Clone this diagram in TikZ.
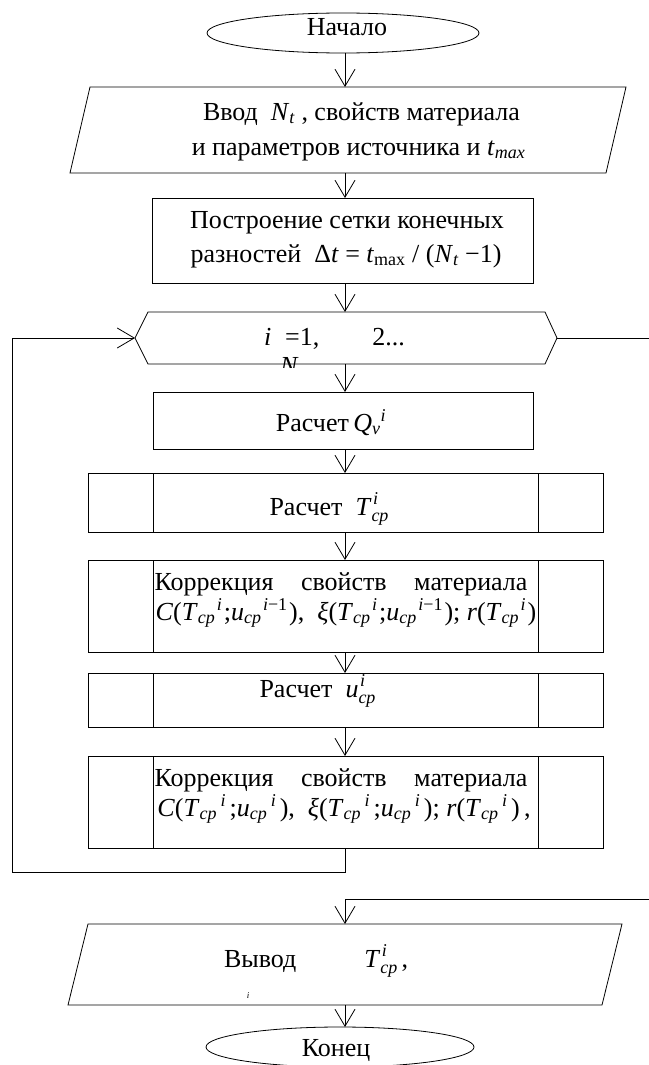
\documentclass[tikz,border=0pt]{standalone}
\usepackage{amsmath}
\usepackage{fontspec}
\setmainfont{Liberation Serif}
\DeclareMathSizes{26}{26}{18}{13}
\usetikzlibrary{arrows.meta,shapes.geometric,calc}
% italic letter in indices, set in the text font
\newcommand\mi[1]{\text{\itshape #1}}
% superscript stacked over subscript
\newcommand\ssc[2]{\makebox[0pt][l]{\kern1.5pt\raisebox{11pt}{\fontsize{18}{18}\selectfont\itshape #1}}\raisebox{-6pt}{\fontsize{18}{18}\selectfont\itshape #2}}
% subscript cp followed by a separate superscript
\newcommand\cpsup[2][1pt]{$_{\mi{cp}}\kern#1{}^{#2}\kern#1$}
\begin{document}
\begin{tikzpicture}[x=1pt,y=-1pt,line width=0.8pt,
  every node/.style={inner sep=0pt,outer sep=0pt},
  lbl/.style={anchor=base,font=\fontsize{26}{35}\selectfont},
  term/.style={draw,ellipse,minimum width=272pt,minimum height=40pt},
  blk/.style={draw},
  pred/.style={draw,minimum width=515pt,
    path picture={\draw
      ([xshift=65pt]path picture bounding box.north west) -- ([xshift=65pt]path picture bounding box.south west)
      ([xshift=-65pt]path picture bounding box.north east) -- ([xshift=-65pt]path picture bounding box.south east);}},
  arr/.style={-{Straight Barb[length=17pt,width=20pt]}}]
\useasboundingbox (0,0) rectangle (648,1065);
\coordinate (axis) at (345,0);

% shapes
\node[term] (start) at (343,33) {};
\node[minimum width=536pt,minimum height=86pt] (in) at (348,130) {};
\draw ($(in.north west)+(10,0)$) -- ($(in.north east)+(10,0)$) -- ($(in.south east)+(-10,0)$) -- ($(in.south west)+(-10,0)$) -- cycle;
\node[blk,minimum width=381pt,minimum height=85pt] (build) at (342.5,240.5) {};
\node[minimum width=422pt,minimum height=52pt] (hex) at (346,338) {};
\draw (hex.west) -- ($(hex.north west)+(13,0)$) -- ($(hex.north east)+(-12,0)$) -- (hex.east) -- ($(hex.south east)+(-12,0)$) -- ($(hex.south west)+(13,0)$) -- cycle;
\node[blk,minimum width=380pt,minimum height=57pt] (q) at (343,420.5) {};
\node[pred,minimum height=59pt] (t) at (345.5,502.5) {};
\node[pred,minimum height=92pt] (c1) at (345.5,606) {};
\node[pred,minimum height=54pt] (u) at (345.5,700) {};
\node[pred,minimum height=92pt] (c2) at (345.5,802) {};
\node[minimum width=534pt,minimum height=81pt] (out) at (345,964.5) {};
\draw ($(out.north west)+(10,0)$) -- ($(out.north east)+(10,0)$) -- ($(out.south east)+(-10,0)$) -- ($(out.south west)+(-10,0)$) -- cycle;
\node[term,minimum width=268pt] (end) at (340,1047) {};

% texts
\node[lbl] (tstart) at (347,36) {Начало};
\node[lbl] (tin1) at (361.5,120) {Ввод\ \ \textit{N}$_{\mi{t}}$\ , свойств материала};
\node[lbl] (tin2) at (358.5,155) {и параметров источника и \textit{t}$_{\mi{max}}$};
\node[lbl] (tb1) at (347,228) {Построение сетки конечных};
\node[lbl] (tb2) at (346,262) {разностей\ \ Δ\textit{t} = \textit{t}$_{\text{max}}$ / (\textit{N}$_{\mi{t}}$ −1)};
\node[lbl,anchor=base west] (thex) at (264,345) {{\itshape i}\hspace{14pt}=1,\hspace{53pt}2...};
\begin{scope}
  \clip (270,355) rectangle (310,367);
  \node[lbl,anchor=base west] (thexn) at (280,374) {\itshape N};
\end{scope}
\node[lbl] (tq) at (331,431) {Расчет\,\textit{Q}$_{\mi{v}}{}^{\mi{i}}$};
\node[lbl] (tt) at (329,515) {Расчет\ \ \textit{T}\ssc{i}{cp}};
\node[lbl] (tc1a) at (341,590) {\makebox[373pt][s]{Коррекция свойств материала}};
\node[lbl] (tc1b) at (346,620) {\textit{C}(\textit{T}\cpsup[1.5pt]{\mi{i}};\textit{u}\cpsup[1.5pt]{\mi{i}\text{−1}}),\ \ \textit{ξ}(\textit{T}\cpsup[1.5pt]{\mi{i}};\textit{u}\cpsup[1.5pt]{\mi{i}\text{−1}}); \textit{r}(\textit{T}\cpsup[1.5pt]{\mi{i}})};
\node[lbl] (tu) at (317.5,697) {Расчет\ \ \textit{u}\ssc{i}{cp}};
\node[lbl] (tc2a) at (341,786) {\makebox[373pt][s]{Коррекция свойств материала}};
\node[lbl] (tc2b) at (344,816) {\textit{C}(\textit{T}\cpsup[3.5pt]{\mi{i}};\textit{u}\cpsup[3.5pt]{\mi{i}}),\ \ \textit{ξ}(\textit{T}\cpsup[3.5pt]{\mi{i}};\textit{u}\cpsup[3.5pt]{\mi{i}}); \textit{r}(\textit{T}\cpsup[3.5pt]{\mi{i}})\,,};
\node[lbl,anchor=base west] (tout) at (224,967) {Вывод\hspace{68pt}\textit{T}\ssc{i}{cp}\,,};
\node[anchor=base,font=\fontsize{9}{9}\selectfont\itshape] (tiny) at (248,998) {i};
\node[lbl] (tend) at (336,1056) {Конец};

% flow
\draw[arr] (start.south -| axis) -- (in.north -| axis);
\draw[arr] (in.south -| axis) -- (build.north -| axis);
\draw[arr] (build.south -| axis) -- (hex.north -| axis);
\draw[arr] (hex.south -| axis) -- (q.north -| axis);
\draw[arr] (q.south -| axis) -- (t.north -| axis);
\draw[arr] (t.south -| axis) -- (c1.north -| axis);
\draw[arr] (c1.south -| axis) -- (u.north -| axis);
\draw[arr] (u.south -| axis) -- (c2.north -| axis);
\coordinate (loop) at (12,872);
\draw[arr] (c2.south -| axis) |- (loop) |- (hex.west);
\coordinate (exit) at (652,899);
\draw[arr] (hex.east) -| (exit) -| (out.north -| axis);
\draw[arr] (out.south -| axis) -- (end.north -| axis);
\end{tikzpicture}
\end{document}
